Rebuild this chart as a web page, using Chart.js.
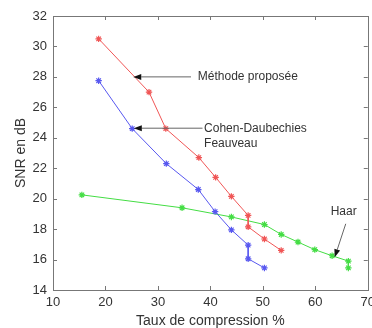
<!DOCTYPE html>
<html>
<head>
<meta charset="utf-8">
<script src="https://cdn.jsdelivr.net/npm/chart.js@4/dist/chart.umd.min.js"></script>
<style>
  html, body { margin: 0; padding: 0; background: #fff; overflow: hidden; }
  #wrap { width: 380px; height: 328px; position: relative; }
</style>
</head>
<body>
<div id="wrap"><canvas id="snr"></canvas></div>
<script>
'use strict'

// taux de compression (%) / SNR (dB) pour chaque méthode
const xProposee = [18.7, 28.3, 31.5, 37.8, 41.0, 44.0, 47.2, 47.2, 50.3, 53.5]
const yProposee = [30.5, 27.0, 24.6, 22.7, 21.4, 20.15, 18.9, 18.15, 17.35, 16.6]

const xCdf = [18.7, 25.1, 31.6, 37.7, 40.9, 44.0, 47.2, 47.2, 50.3]
const yCdf = [27.75, 24.6, 22.3, 20.6, 19.15, 17.95, 16.95, 16.05, 15.45]

const xHaar = [15.5, 34.6, 44.0, 50.3, 53.5, 56.7, 59.9, 63.2, 66.3, 66.3]
const yHaar = [20.25, 19.4, 18.8, 18.3, 17.65, 17.15, 16.65, 16.25, 15.9, 15.45]

const xTicks = [10, 20, 30, 40, 50, 60, 70]
const yTicks = [14, 16, 18, 20, 22, 24, 26, 28, 30, 32]

const toPoints = (xs, ys) => xs.map((x, i) => ({x: x, y: ys[i]}))

// flèches + textes, en coordonnées des axes
const notes = [
  {lines: ['Méthode proposée'], text: [37.6, 28.0], from: [36.3, 28.0], to: [25.3, 28.0], align: 'left'},
  {lines: ['Cohen-Daubechies', 'Feauveau'], text: [38.8, 24.63], from: [38.5, 24.63], to: [25.4, 24.63], align: 'left'},
  {lines: ['Haar'], text: [65.4, 19.17], from: [65.8, 18.35], to: [63.7, 16.15], align: 'center'}
]

const FONT = '"Liberation Sans", Arial, sans-serif'
const INK = '#333'

function serie(xs, ys, color) {
  return {
    data: toPoints(xs, ys),
    showLine: true,
    borderColor: color,
    backgroundColor: color,
    borderWidth: 1,
    pointStyle: 'star',
    pointRadius: 3.2,
    pointBorderWidth: 1.2,
    pointBorderColor: color,
    tension: 0
  }
}

// cadre façon matlab, graduations vers l'intérieur sur les 4 côtés
const boxPlugin = {
  id: 'box',
  afterDraw(chart) {
    const {ctx, chartArea: a, scales} = chart
    ctx.save()
    ctx.strokeStyle = '#777'
    ctx.lineWidth = 1
    ctx.strokeRect(Math.round(a.left) + 0.5, Math.round(a.top) + 0.5,
                   Math.round(a.right - a.left), Math.round(a.bottom - a.top))
    const tl = 4
    ctx.beginPath()
    xTicks.forEach(v => {
      const px = Math.round(scales.x.getPixelForValue(v)) + 0.5
      ctx.moveTo(px, a.bottom); ctx.lineTo(px, a.bottom - tl)
      ctx.moveTo(px, a.top); ctx.lineTo(px, a.top + tl)
    })
    yTicks.forEach(v => {
      const py = Math.round(scales.y.getPixelForValue(v)) + 0.5
      ctx.moveTo(a.left, py); ctx.lineTo(a.left + tl, py)
      ctx.moveTo(a.right, py); ctx.lineTo(a.right - tl, py)
    })
    ctx.stroke()
    ctx.restore()
  }
}

const notesPlugin = {
  id: 'notes',
  afterDatasetsDraw(chart) {
    const {ctx, scales} = chart
    const X = v => scales.x.getPixelForValue(v)
    const Y = v => scales.y.getPixelForValue(v)
    ctx.save()
    notes.forEach(n => {
      const x0 = X(n.from[0]), y0 = Y(n.from[1])
      const x1 = X(n.to[0]), y1 = Y(n.to[1])
      const ang = Math.atan2(y1 - y0, x1 - x0)
      const hl = 8, hw = 3
      // trait
      ctx.strokeStyle = '#666'
      ctx.lineWidth = 1
      ctx.beginPath()
      ctx.moveTo(x0, y0)
      ctx.lineTo(x1 - Math.cos(ang) * hl, y1 - Math.sin(ang) * hl)
      ctx.stroke()
      // pointe
      ctx.fillStyle = '#111'
      ctx.beginPath()
      ctx.moveTo(x1, y1)
      ctx.lineTo(x1 - Math.cos(ang) * hl - Math.sin(ang) * hw, y1 - Math.sin(ang) * hl + Math.cos(ang) * hw)
      ctx.lineTo(x1 - Math.cos(ang) * hl + Math.sin(ang) * hw, y1 - Math.sin(ang) * hl - Math.cos(ang) * hw)
      ctx.closePath()
      ctx.fill()
      // texte
      ctx.fillStyle = INK
      ctx.font = '12px ' + FONT
      ctx.textAlign = n.align
      ctx.textBaseline = 'middle'
      n.lines.forEach((t, i) => ctx.fillText(t, X(n.text[0]), Y(n.text[1]) + i * 15))
    })
    ctx.restore()
  }
}

const snrChart = new Chart(document.getElementById('snr'), {
  type: 'scatter',
  data: {
    datasets: [
      serie(xProposee, yProposee, '#f05656'),
      serie(xCdf, yCdf, '#5858f0'),
      serie(xHaar, yHaar, '#44dd44')
    ]
  },
  options: {
    responsive: true,
    maintainAspectRatio: false,
    animation: false,
    layout: {padding: {top: 16, right: 0, left: 0, bottom: 0}},
    plugins: {legend: {display: false}, tooltip: {enabled: false}},
    scales: {
      x: {
        type: 'linear',
        min: 10, max: 70,
        grid: {display: false, drawTicks: false},
        border: {display: false},
        afterBuildTicks: s => { s.ticks = xTicks.map(v => ({value: v})) },
        afterFit: s => { s.height = 38 },
        ticks: {color: INK, padding: 5, font: {family: FONT, size: 13}, maxRotation: 0},
        title: {
          display: true, text: 'Taux de compression %', color: INK,
          font: {family: FONT, size: 14, lineHeight: 1}, padding: {top: 0, bottom: 0}
        }
      },
      y: {
        type: 'linear',
        min: 14, max: 32,
        grid: {display: false, drawTicks: false},
        border: {display: false},
        afterBuildTicks: s => { s.ticks = yTicks.map(v => ({value: v})) },
        afterFit: s => { s.width = 53 },
        ticks: {color: INK, padding: 6, font: {family: FONT, size: 13}},
        title: {
          display: true, text: 'SNR en dB', color: INK,
          font: {family: FONT, size: 14, lineHeight: 1}, padding: {top: 14, bottom: 0}
        }
      }
    }
  },
  plugins: [boxPlugin, notesPlugin]
})
</script>
</body>
</html>
